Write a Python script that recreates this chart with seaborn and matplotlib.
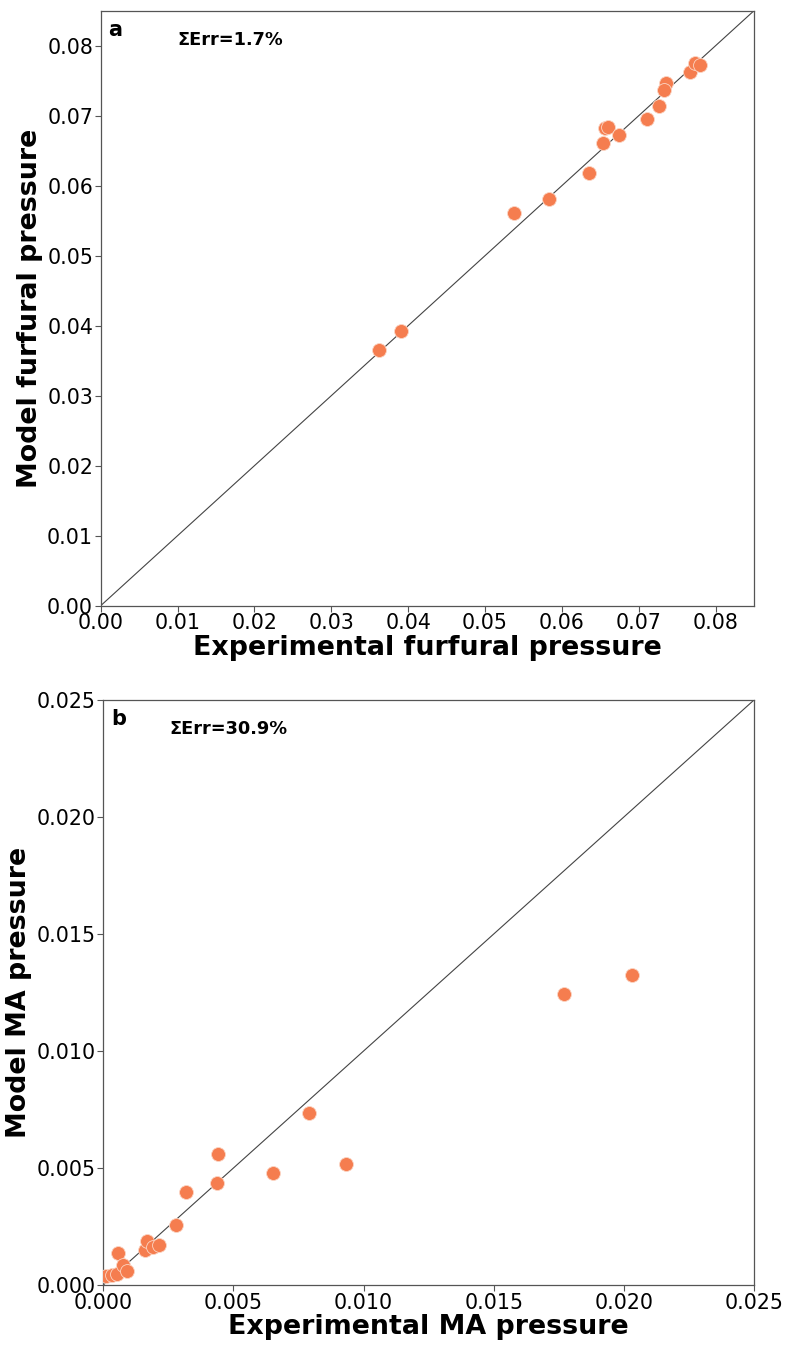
import matplotlib
matplotlib.use("Agg")
import matplotlib.pyplot as plt
import seaborn as sns
import pandas as pd

# Panel a: furfural
furf_exp = [0.0362, 0.0391, 0.0538, 0.0583, 0.0635, 0.0653, 0.0656, 0.0660, 0.0674,
            0.0711, 0.0727, 0.0735, 0.0733, 0.0767, 0.0773, 0.0780]
furf_mod = [0.0365, 0.0392, 0.0561, 0.0581, 0.0618, 0.0661, 0.0683, 0.0684, 0.0672,
            0.0695, 0.0714, 0.0747, 0.0737, 0.0763, 0.0776, 0.0773]

# Panel b: MA
ma_exp = [0.00010, 0.00033, 0.00053, 0.00055, 0.00077, 0.00092, 0.00160, 0.00167, 0.00192,
          0.00215, 0.00281, 0.00318, 0.00436, 0.00440, 0.00653, 0.00791, 0.00932, 0.01769, 0.02030]
ma_mod = [0.00040, 0.00041, 0.00047, 0.00135, 0.00085, 0.00060, 0.00150, 0.00190, 0.00164,
          0.00171, 0.00256, 0.00397, 0.00435, 0.00560, 0.00477, 0.00734, 0.00517, 0.01242, 0.01323]

panels = [
    dict(x=furf_exp, y=furf_mod, lim=0.085, letter="a", err="ΣErr=1.7%",
         xlabel="Experimental furfural pressure", ylabel="Model furfural pressure",
         ticks=[0.00, 0.01, 0.02, 0.03, 0.04, 0.05, 0.06, 0.07, 0.08], fmt="{:.2f}",
         rect=[100.7 / 788, 1 - 605.7 / 1347, (754 - 100.7) / 788, 595 / 1347], errx=0.118),
    dict(x=ma_exp, y=ma_mod, lim=0.025, letter="b", err="ΣErr=30.9%",
         xlabel="Experimental MA pressure", ylabel="Model MA pressure",
         ticks=[0.000, 0.005, 0.010, 0.015, 0.020, 0.025], fmt="{:.3f}",
         rect=[103.3 / 788, 1 - 1285 / 1347, (754 - 103.3) / 788, 585 / 1347], errx=0.102),
]

sns.set_theme(style="ticks")
plt.rcParams["font.family"] = ["DejaVu Sans"]
plt.rcParams["axes.edgecolor"] = "#555555"
plt.rcParams["xtick.color"] = "#555555"
plt.rcParams["ytick.color"] = "#555555"
plt.rcParams["xtick.labelcolor"] = "black"
plt.rcParams["ytick.labelcolor"] = "black"
plt.rcParams["text.color"] = "black"
plt.rcParams["axes.labelcolor"] = "black"

fig = plt.figure(figsize=(7.88, 13.47), dpi=100)

for p in panels:
    ax = fig.add_axes(p["rect"])
    df = pd.DataFrame({"exp": p["x"], "mod": p["y"]})
    ax.plot([0, p["lim"]], [0, p["lim"]], color="#444444", lw=0.8, zorder=1)
    sns.scatterplot(data=df, x="exp", y="mod", ax=ax, color="#F57D4F", s=100,
                    edgecolor="#FBD5C4", linewidth=0.6, zorder=3)
    ax.set_xlim(0, p["lim"])
    ax.set_ylim(0, p["lim"])
    ax.set_xticks(p["ticks"])
    ax.set_yticks(p["ticks"])
    ax.set_xticklabels([p["fmt"].format(t) for t in p["ticks"]])
    ax.set_yticklabels([p["fmt"].format(t) for t in p["ticks"]])
    ax.tick_params(labelsize=14.8, length=4, width=0.8, pad=1.5)
    for s in ax.spines.values():
        s.set_linewidth(0.9)
    ax.set_xlabel(p["xlabel"], fontsize=19.4, fontweight="bold", labelpad=1)
    ax.set_ylabel(p["ylabel"], fontsize=19.4, fontweight="bold", labelpad=3)
    ax.text(0.012, 0.985, p["letter"], transform=ax.transAxes, fontsize=15,
            fontweight="bold", va="top", ha="left")
    ax.text(p["errx"], 0.95, p["err"], transform=ax.transAxes, fontsize=12.8,
            fontweight="bold", va="center", ha="left")

fig.savefig("out.png", dpi=100)
